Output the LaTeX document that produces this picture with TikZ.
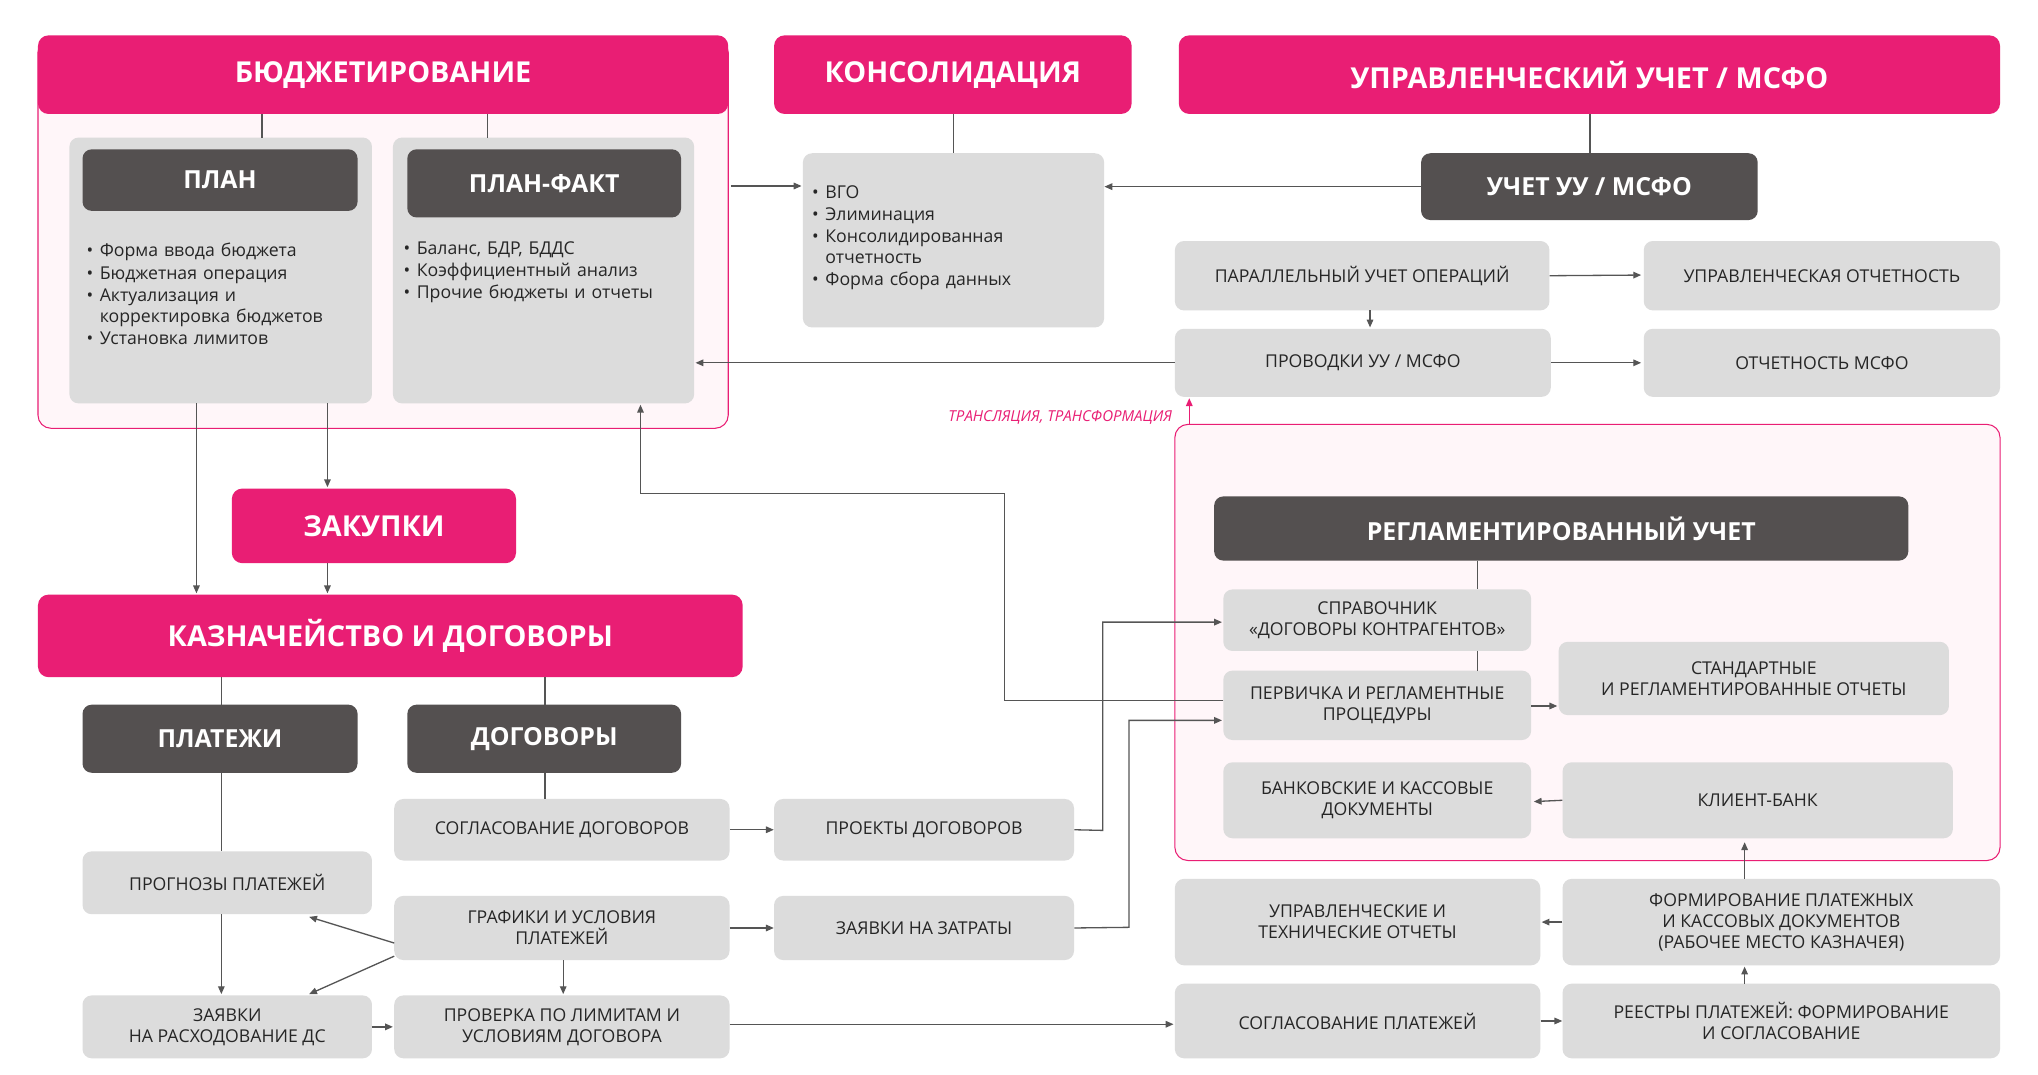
\documentclass[tikz,border=0pt]{standalone}
\usepackage{fontspec}
\setmainfont{Open Sans}
\usepackage{enumitem}
\usetikzlibrary{arrows.meta,calc}
\definecolor{pk}{HTML}{E91E74}
\definecolor{lpk}{HTML}{FFF6F9}
\definecolor{gb}{HTML}{DCDCDC}
\definecolor{dk}{HTML}{545050}
\definecolor{ln}{HTML}{555555}
\newcommand\BX[7]{\node[#1,minimum width={(#4)-(#2)},minimum height={(#5)-(#3)}] (#6) at ({((#2)+(#4))/2},{((#3)+(#5))/2}) {#7};}
\newcommand\LI[1]{\begin{itemize}[leftmargin=12pt,itemsep=1pt,topsep=0pt,parsep=0pt,label=\textbullet]#1\end{itemize}}
\begin{document}
\begin{tikzpicture}[x=1pt,y=-1pt,
 pkh/.style={fill=pk,rounded corners=8pt,inner sep=0,text=white,font=\bfseries\fontsize{22}{24}\selectfont},
 dkh/.style={fill=dk,rounded corners=7pt,inner sep=0,text=white,font=\bfseries\fontsize{19}{22}\selectfont},
 gr/.style={fill=gb,rounded corners=7pt,inner sep=0,text=black!85,align=center,font=\fontsize{13.5}{16}\selectfont},
 cont/.style={draw=pk,fill=lpk,rounded corners=10pt,line width=0.8pt},
 arr/.style={draw=ln,line width=1pt,-{Triangle[length=6pt,width=5pt]}},
 ln/.style={draw=ln,line width=1pt},
 blt/.style={inner sep=0,anchor=north west,text=black!85,font=\fontsize{13.5}{16}\selectfont}]
\useasboundingbox (0,0) rectangle (1556,820);
\fill[white] (0,0) rectangle (1556,820);
% containers
\draw[cont] (29,30) rectangle (556,327);
\draw[cont] (897,324) rectangle (1527,657);
% Budget
\BX{pkh}{29}{27}{556}{87}{bud}{БЮДЖЕТИРОВАНИЕ}
\BX{gr}{53}{105}{284}{308}{planb}{}
\BX{gr}{300}{105}{530}{308}{pfb}{}
\BX{dkh}{63}{114}{273}{161}{plan}{ПЛАН}
\BX{dkh}{311}{114}{520}{166}{pf}{ПЛАН-ФАКТ}
\draw[ln] (200,87) -- (200,105);
\draw[ln] (372,87) -- (372,105);
\node[blt,text width=190pt] (pl) at (64,180) {\LI{\item Форма ввода бюджета \item Бюджетная операция \item Актуализация и корректировка бюджетов \item Установка лимитов}};
\node[blt,text width=210pt] (pfl) at (306,178) {\LI{\item Баланс, БДР, БДДС \item Коэффициентный анализ \item Прочие бюджеты и отчеты}};
% Consolidation
\BX{pkh}{591}{27}{864}{87}{kons}{КОНСОЛИДАЦИЯ}
\BX{gr}{613}{117}{843}{250}{konsb}{}
\draw[ln] (728,87) -- (728,117);
\node[blt,text width=200pt] (kl) at (618,135) {\LI{\item ВГО \item Элиминация \item Консолидированная отчетность \item Форма сбора данных}};
% UU
\BX{pkh}{900}{27}{1527}{87}{uu}{УПРАВЛЕНЧЕСКИЙ УЧЕТ / МСФО}
\BX{dkh}{1085}{117}{1342}{168}{uchuu}{УЧЕТ УУ / МСФО}
\draw[ln] (1214,87) -- (1214,117);
\BX{gr}{897}{184}{1183}{237}{par}{ПАРАЛЛЕЛЬНЫЙ УЧЕТ ОПЕРАЦИЙ}
\BX{gr}{1255}{184}{1527}{237}{uo}{УПРАВЛЕНЧЕСКАЯ ОТЧЕТНОСТЬ}
\BX{gr}{897}{251}{1184}{303}{prov}{ПРОВОДКИ УУ / МСФО}
\BX{gr}{1255}{251}{1527}{303}{om}{ОТЧЕТНОСТЬ МСФО}
\draw[arr] (uchuu.west) -- (konsb.east |- uchuu.west);
\draw[arr] (558,142) -- (612,142);
\draw[arr] (par.east) -- (1253,210);
\draw[arr] (prov.east) -- (1253,277);
\draw[arr] (1046,237) -- (1046,250);
\draw[arr] (prov.west) -- (531,277);
\draw[draw=pk,line width=1pt,-{Triangle[length=6pt,width=5pt]}] (908,324) -- (908,304);
\node[anchor=east,text=pk,font=\itshape\fontsize{11.5}{13}\selectfont,inner sep=0] (tr) at (895,319) {ТРАНСЛЯЦИЯ, ТРАНСФОРМАЦИЯ};
% Regulated
\BX{dkh}{927}{379}{1457}{428}{reg}{РЕГЛАМЕНТИРОВАННЫЙ УЧЕТ}
\BX{gr}{934}{450}{1169}{497}{spr}{СПРАВОЧНИК\\«ДОГОВОРЫ КОНТРАГЕНТОВ»}
\BX{gr}{934}{512}{1169}{565}{perv}{ПЕРВИЧКА И РЕГЛАМЕНТНЫЕ\\ПРОЦЕДУРЫ}
\BX{gr}{1190}{490}{1488}{546}{std}{СТАНДАРТНЫЕ\\И РЕГЛАМЕНТИРОВАННЫЕ ОТЧЕТЫ}
\BX{gr}{934}{582}{1169}{640}{bank}{БАНКОВСКИЕ И КАССОВЫЕ\\ДОКУМЕНТЫ}
\BX{gr}{1193}{582}{1491}{640}{kb}{КЛИЕНТ-БАНК}
\draw[ln] (1128,428) -- (1128,450);
\draw[ln] (1128,497) -- (1128,512);
\draw[arr] (1169,539) -- (1189,539);
\draw[arr] (kb.west) -- (1171,612);
\BX{gr}{897}{671}{1176}{737}{ut}{УПРАВЛЕНЧЕСКИЕ И\\ТЕХНИЧЕСКИЕ ОТЧЕТЫ}
\BX{gr}{1193}{671}{1527}{737}{form}{ФОРМИРОВАНИЕ ПЛАТЕЖНЫХ\\И КАССОВЫХ ДОКУМЕНТОВ\\(РАБОЧЕЕ МЕСТО КАЗНАЧЕЯ)}
\BX{gr}{897}{751}{1176}{808}{sp}{СОГЛАСОВАНИЕ ПЛАТЕЖЕЙ}
\BX{gr}{1193}{751}{1527}{808}{rees}{РЕЕСТРЫ ПЛАТЕЖЕЙ: ФОРМИРОВАНИЕ\\И СОГЛАСОВАНИЕ}
\draw[arr] (form.west) -- (1177,704);
\draw[arr] (1332,671) -- (1332,643);
\draw[arr] (sp.east) -- (rees.west);
\draw[arr] (1332,751) -- (1332,738);
% Zakupki / Treasury
\BX{pkh}{177}{373}{394}{430}{zak}{ЗАКУПКИ}
\BX{pkh}{29}{454}{567}{517}{kaz}{КАЗНАЧЕЙСТВО И ДОГОВОРЫ}
\draw[arr] (250,308) -- (250,372);
\draw[arr] (150,308) -- (150,453);
\draw[arr] (250,430) -- (250,453);
\BX{dkh}{63}{538}{273}{590}{plat}{ПЛАТЕЖИ}
\BX{dkh}{311}{538}{520}{590}{dog}{ДОГОВОРЫ}
\draw[ln] (169,517) -- (169,538);
\draw[ln] (416,517) -- (416,538);
\BX{gr}{63}{650}{284}{698}{progn}{ПРОГНОЗЫ ПЛАТЕЖЕЙ}
\BX{gr}{301}{610}{557}{657}{sogd}{СОГЛАСОВАНИЕ ДОГОВОРОВ}
\BX{gr}{591}{610}{820}{657}{proek}{ПРОЕКТЫ ДОГОВОРОВ}
\BX{gr}{301}{684}{557}{733}{graf}{ГРАФИКИ И УСЛОВИЯ\\ПЛАТЕЖЕЙ}
\BX{gr}{591}{684}{820}{733}{zz}{ЗАЯВКИ НА ЗАТРАТЫ}
\BX{gr}{63}{760}{284}{808}{zr}{ЗАЯВКИ\\НА РАСХОДОВАНИЕ ДС}
\BX{gr}{301}{760}{557}{808}{prv}{ПРОВЕРКА ПО ЛИМИТАМ И\\УСЛОВИЯМ ДОГОВОРА}
\draw[ln] (169,590) -- (169,650);
\draw[ln] (416,590) -- (416,610);
\draw[arr] (sogd.east) -- (proek.west);
\draw[arr] (graf.east) -- (zz.west);
\draw[arr] (169,698) -- (169,759);
\draw[arr] (301,720) -- (236,700);
\draw[arr] (301,730) -- (236,759);
\draw[arr] (430,733) -- (430,759);
\draw[arr] (284,784) -- (300,784);
\draw[arr] (557,782) -- (896,782);
\draw[arr] (proek.east) -- (842,634) -- (842,475) -- (933,475);
\draw[arr] (zz.east) -- (862,708) -- (862,550) -- (933,550);
\draw[arr] (934,535) -- (767,535) -- (767,377) -- (489,377) -- (489,309);
\end{tikzpicture}
\end{document}
